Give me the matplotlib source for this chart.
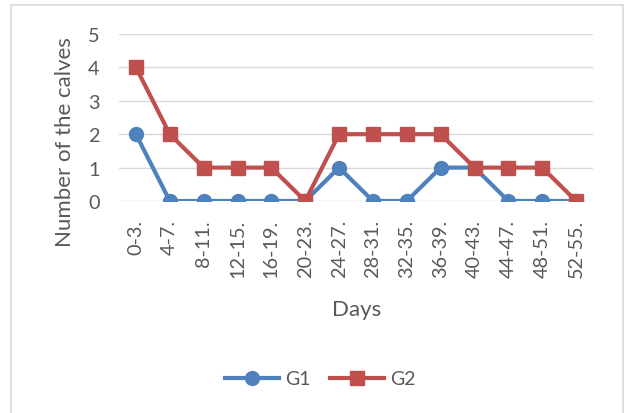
import matplotlib.pyplot as plt
from matplotlib.patches import Rectangle

# Data
days = ['0-3.', '4-7.', '8-11.', '12-15.', '16-19.', '20-23.', '24-27.',
        '28-31.', '32-35.', '36-39.', '40-43.', '44-47.', '48-51.', '52-55.']
g1 = [2, 0, 0, 0, 0, 0, 1, 0, 0, 1, 1, 0, 0, 0]
g2 = [4, 2, 1, 1, 1, 0, 2, 2, 2, 2, 1, 1, 1, 0]

plt.rcParams['font.family'] = ['Lato', 'DejaVu Sans']
txt = '#595959'

W, H = 625, 414
fig = plt.figure(figsize=(W / 100, H / 100), dpi=100)
ax = fig.add_axes([119 / W, 1 - 202 / H, (593 - 119) / W, (202 - 35) / H])

x = range(len(days))
ax.plot(x, g1, color='#4F81BD', linewidth=3, marker='o', markersize=10,
        label='G1', zorder=3)
ax.plot(x, g2, color='#C0504D', linewidth=3, marker='s', markersize=9.5,
        label='G2', zorder=3)

ax.set_xlim(-0.5, len(days) - 0.5)
ax.set_ylim(0, 5)
ax.set_yticks(range(6))
ax.set_xticks(list(x))
ax.set_xticklabels(days, rotation=90)
ax.tick_params(length=0, labelsize=14.3, colors=txt)
ax.tick_params(axis='y', pad=14)
ax.tick_params(axis='x', pad=13)

ax.grid(axis='y', color='#D9D9D9', linewidth=1)
ax.set_axisbelow(True)
for s in ax.spines.values():
    s.set_visible(False)

fig.text(65 / W, 1 - 142 / H, 'Number of the calves', rotation=90,
         ha='center', va='center', fontsize=16, color=txt)
fig.text(357 / W, 1 - 310 / H, 'Days', ha='center', va='center',
         fontsize=16, color=txt)

fig.legend(loc='center', bbox_to_anchor=(320 / W, 1 - 380 / H), ncol=2,
           frameon=False, fontsize=14, labelcolor=txt, handlelength=2.8,
           columnspacing=1.0, handletextpad=0.3)

fig.patches.append(Rectangle((11 / W, -0.05), (623 - 11) / W, 1.05 - 6 / H,
                             transform=fig.transFigure, fill=False,
                             edgecolor='#D9D9D9', linewidth=1.2))

fig.savefig('out.png', dpi=100)
